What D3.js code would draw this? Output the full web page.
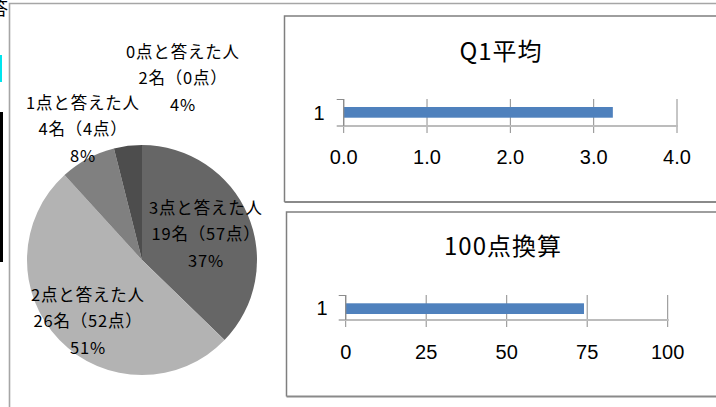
<!DOCTYPE html>
<html><head><meta charset="utf-8">
<script src="https://cdn.jsdelivr.net/npm/d3@7"></script>
<style>
html,body{margin:0;padding:0;background:#fff;overflow:hidden}
svg{display:block}
text{font-family:"Noto Sans CJK JP","Noto Sans",sans-serif;fill:#000}
text.num{font-family:"Liberation Sans","Arial",sans-serif}
</style></head>
<body>
<svg id="c" width="716" height="407"></svg>
<script>
// ---- data ----
const pieCategories = ["3点と答えた人", "2点と答えた人", "1点と答えた人", "0点と答えた人"];
const pieCounts = [19, 26, 4, 2];
const piePoints = [57, 52, 4, 0];
const barCategories = ["1"];
const q1Average = [3.23];
const score100 = [74];
const q1Ticks = [0, 1, 2, 3, 4];
const scoreTicks = [0, 25, 50, 75, 100];
const q1Title = "Q1平均";
const scoreTitle = "100点換算";

// ---- styles / layout ----
const sliceColors = ["#666666", "#b3b3b3", "#808080", "#4d4d4d"];
const labelPos = [[206, 208], [88, 295], [83, 103], [183, 52]];
const svg = d3.select("#c");

// left-edge artifacts
svg.append("text").attr("x", -10).attr("y", 15).style("font-size", "18px").text("答");
svg.append("rect").attr("x", 0).attr("y", 55).attr("width", 2).attr("height", 27).attr("fill", "#00e5ee");
svg.append("rect").attr("x", 0).attr("y", 112).attr("width", 3).attr("height", 150).attr("fill", "#000");

// outer frame
svg.append("path").attr("d", "M9.5,407 L9.5,3.5 L716,3.5").attr("fill", "none").attr("stroke", "#a6a6a6").attr("stroke-width", 1.6);

// ---- pie ----
const total = d3.sum(pieCounts);
const pie = d3.pie().sort(null).value(d => d)(pieCounts);
const arc = d3.arc().innerRadius(0).outerRadius(115);
const pg = svg.append("g").attr("transform", "translate(142,260)");
pg.selectAll("path").data(pie).join("path")
  .attr("d", arc).attr("fill", (d, i) => sliceColors[i]);

const pct = d3.format(".0%");
pieCategories.forEach((c, i) => {
  const lines = [c, `${pieCounts[i]}名（${piePoints[i]}点）`, pct(pieCounts[i] / total)];
  const t = svg.append("text").attr("text-anchor", "middle")
    .style("font-size", "16.5px").style("letter-spacing", "0.8px");
  lines.forEach((l, j) => {
    t.append("tspan").attr("x", labelPos[i][0]).attr("y", labelPos[i][1] + j * 26.5)
      .attr("dy", "0.35em").text(l);
  });
});

// ---- bar charts ----
function barChart(cfg) {
  const g = svg.append("g");
  g.append("path").attr("d", `M${cfg.box[0]},${cfg.box[3]} L${cfg.box[0]},${cfg.box[1]} L716,${cfg.box[1]}`)
    .attr("fill", "none").attr("stroke", "#7f7f7f").attr("stroke-width", 1.5);
  g.append("line").attr("x1", cfg.box[0]).attr("x2", 716).attr("y1", cfg.box[3]).attr("y2", cfg.box[3])
    .attr("stroke", "#8a8a8a").attr("stroke-width", 1.8);
  g.append("text").attr("x", cfg.titleX).attr("y", cfg.titleY).attr("dy", "0.35em")
    .attr("text-anchor", "middle").style("font-size", "24px").style("letter-spacing", "1px").text(cfg.title);

  const x = d3.scaleLinear().domain(d3.extent(cfg.ticks)).range(cfg.xRange);
  const y = d3.scaleBand().domain(barCategories).range([cfg.top, cfg.axisY]);
  g.selectAll("line.grid").data(cfg.ticks).join("line").attr("class", "grid")
    .attr("x1", d => x(d)).attr("x2", d => x(d))
    .attr("y1", cfg.top).attr("y2", cfg.axisY + 7)
    .attr("stroke", "#8c8c8c").attr("stroke-width", 1);
  g.selectAll("rect.bar").data(cfg.values).join("rect").attr("class", "bar")
    .attr("x", x(0)).attr("width", d => x(d) - x(0))
    .attr("y", (d, i) => y(barCategories[i]) + cfg.barOff).attr("height", cfg.barH)
    .attr("fill", "#4f81bd");
  g.append("line").attr("x1", x(0) - 7).attr("x2", cfg.xRange[1] + 1).attr("y1", cfg.axisY).attr("y2", cfg.axisY)
    .attr("stroke", "#bcbcbc").attr("stroke-width", 2);
  g.append("path").attr("d", `M${x(0) - 7},${cfg.top + 0.5} L${x(0)},${cfg.top + 0.5} L${x(0)},${cfg.axisY}`)
    .attr("fill", "none").attr("stroke", "#8c8c8c").attr("stroke-width", 1.2);
  g.selectAll("text.tl").data(cfg.ticks).join("text").attr("class", "tl num")
    .attr("x", d => x(d)).attr("y", cfg.labelY).attr("dy", "0.35em").attr("text-anchor", "middle")
    .style("font-size", "20px").text(cfg.fmt);
  g.selectAll("text.cat").data(barCategories).join("text").attr("class", "cat num")
    .attr("x", cfg.catX).attr("y", d => y(d) + y.bandwidth() / 2).attr("dy", "0.35em")
    .attr("text-anchor", "middle").style("font-size", "20px").text(d => d);
}

barChart({box: [284.5, 16, 0, 202], title: q1Title, titleX: 501, titleY: 52,
  ticks: q1Ticks, values: q1Average, xRange: [343.7, 677], top: 99, axisY: 126,
  barOff: 8, barH: 10.7, labelY: 157, catX: 319, fmt: d3.format(".1f")});
barChart({box: [286.5, 212, 0, 396.5], title: scoreTitle, titleX: 503, titleY: 247,
  ticks: scoreTicks, values: score100, xRange: [345.7, 667.7], top: 295, axisY: 320,
  barOff: 8.3, barH: 10.7, labelY: 352, catX: 322, fmt: d3.format("d")});
</script>
</body></html>
